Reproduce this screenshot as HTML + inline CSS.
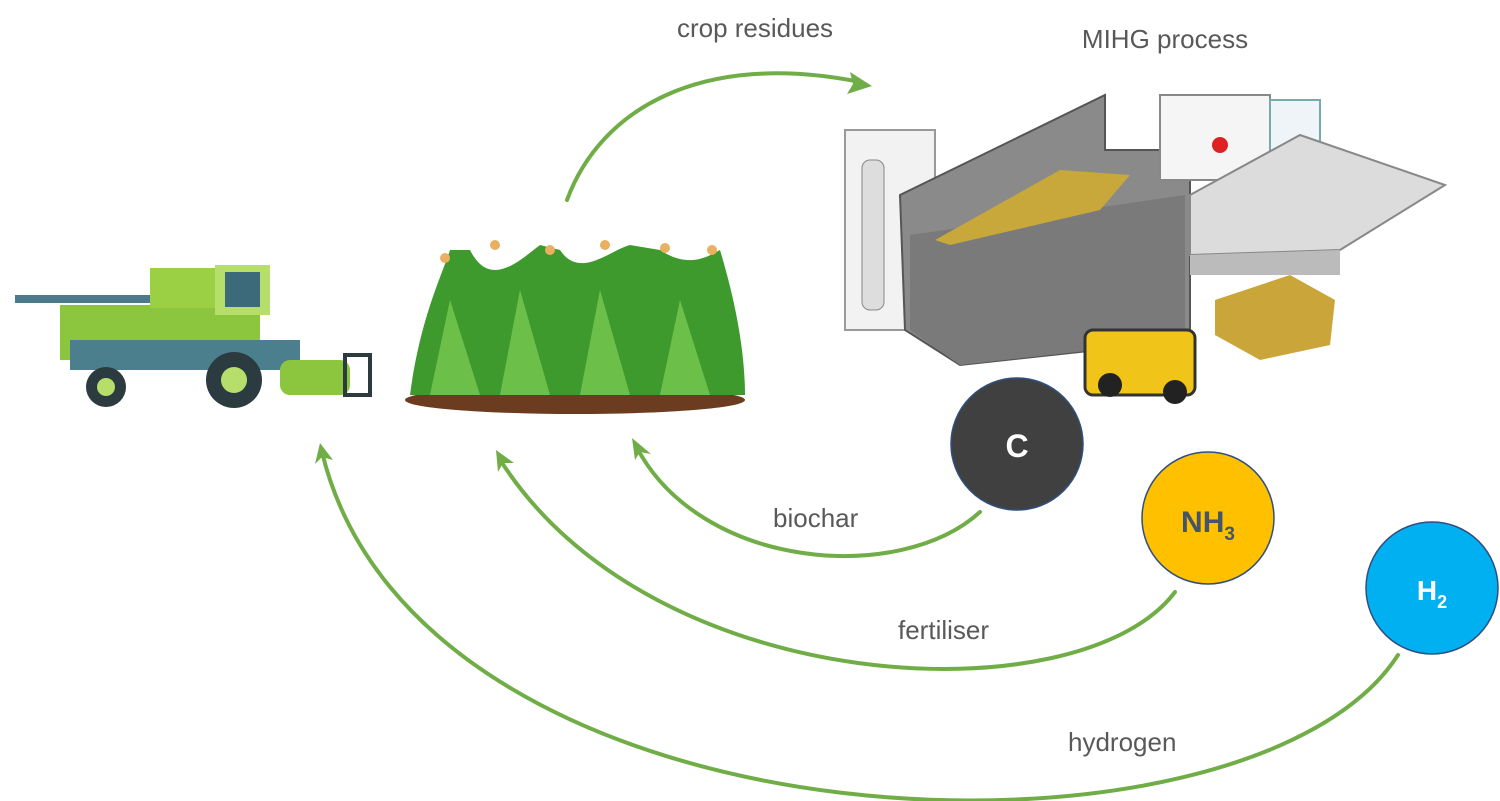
<!DOCTYPE html>
<html><head><meta charset="utf-8"><style>
body{margin:0;background:#fff}
svg{display:block}
text{font-family:"Liberation Sans",sans-serif}
</style></head><body>
<svg width="1500" height="801" viewBox="0 0 1500 801" xmlns="http://www.w3.org/2000/svg">
<g fill="none" stroke="#70ad47" stroke-width="4" stroke-linecap="round">
<path d="M567,200 C600,110 700,50 860,82"/>
<path d="M980,512 C900,585 700,570 636,446"/>
<path d="M1175,592 C1080,718 650,700 499,458"/>
<path d="M1398,655 C1250,885 420,860 322,452"/>
</g>
<g fill="#70ad47">
<polygon points="872,86 850,72 853,84 847,94"/>
<polygon points="632,438 635,460 640,452 651,454"/>
<polygon points="496,450 498,472 503,463 514,463"/>
<polygon points="320,443 315,464 322,457 333,460"/>
</g>
<!-- harvester -->
<g>
<rect x="15" y="295" width="160" height="8" fill="#4a7a8c"/>
<rect x="60" y="305" width="200" height="55" fill="#8cc63f"/>
<rect x="150" y="268" width="120" height="40" fill="#9bd045"/>
<rect x="215" y="265" width="55" height="50" fill="#b6de6a"/>
<rect x="225" y="272" width="35" height="35" fill="#3d6a7a"/>
<rect x="70" y="340" width="230" height="30" fill="#4b7f8e"/>
<circle cx="106" cy="387" r="20" fill="#2b3b40"/><circle cx="106" cy="387" r="9" fill="#b6de6a"/>
<circle cx="234" cy="380" r="28" fill="#2b3b40"/><circle cx="234" cy="380" r="13" fill="#b6de6a"/>
<rect x="280" y="360" width="70" height="35" rx="10" fill="#8cc63f"/>
<rect x="345" y="355" width="25" height="40" fill="none" stroke="#2b3b40" stroke-width="4"/>
</g>
<!-- corn -->
<g>
<ellipse cx="575" cy="400" rx="170" ry="14" fill="#6b3c1f"/>
<path d="M410,395 C420,320 440,280 450,250 L470,250 C490,290 520,260 540,245 L560,250 C580,280 610,250 630,245 L660,250 C690,270 710,255 720,250 C735,300 745,350 745,395 Z" fill="#3f9a2e"/>
<path d="M430,395 L450,300 L480,395 Z M500,395 L520,290 L550,395 Z M580,395 L600,290 L630,395 Z M660,395 L680,300 L710,395 Z" fill="#6cc04a"/>
<g fill="#e8b060"><circle cx="445" cy="258" r="5"/><circle cx="495" cy="245" r="5"/><circle cx="550" cy="250" r="5"/><circle cx="605" cy="245" r="5"/><circle cx="665" cy="248" r="5"/><circle cx="712" cy="250" r="5"/></g>
</g>
<!-- plant -->
<g>
<rect x="845" y="130" width="90" height="200" fill="#f2f2f2" stroke="#999" stroke-width="2"/>
<rect x="862" y="160" width="22" height="150" rx="8" fill="#ddd" stroke="#888"/>
<polygon points="900,195 1105,95 1105,150 1190,150 1190,340 960,365 905,330" fill="#8a8a8a" stroke="#555" stroke-width="2"/>
<polygon points="910,235 1185,195 1185,340 960,365 910,330" fill="#7a7a7a"/>
<polygon points="935,240 1060,170 1130,175 1100,210 950,245" fill="#c8a83a"/>
<rect x="1160" y="95" width="110" height="85" fill="#f5f5f5" stroke="#888" stroke-width="2"/>
<rect x="1270" y="100" width="50" height="90" fill="#eef4f8" stroke="#7aa" stroke-width="2"/>
<polygon points="1190,195 1300,135 1445,185 1340,250 1190,255" fill="#dcdcdc" stroke="#888" stroke-width="2"/>
<polygon points="1190,255 1340,250 1340,275 1190,275" fill="#bbb"/>
<circle cx="1220" cy="145" r="8" fill="#d22"/>
<rect x="1085" y="330" width="110" height="65" rx="8" fill="#f0c419" stroke="#333" stroke-width="3"/>
<circle cx="1110" cy="385" r="12" fill="#222"/><circle cx="1175" cy="392" r="12" fill="#222"/>
<polygon points="1215,300 1290,275 1335,300 1330,345 1260,360 1215,335" fill="#c9a53a"/>
</g>
<!-- circles -->
<circle cx="1017" cy="444" r="66" fill="#404040" stroke="#2f4f7f" stroke-width="1.5"/>
<text x="1017" y="457" text-anchor="middle" font-size="32" font-weight="bold" fill="#fff">C</text>
<circle cx="1208" cy="518" r="66" fill="#ffc000" stroke="#2f4f7f" stroke-width="1.5"/>
<text x="1208" y="532" text-anchor="middle" font-size="30" font-weight="bold" fill="#44546a">NH<tspan font-size="19" dy="8">3</tspan></text>
<circle cx="1432" cy="588" r="66" fill="#00b0f0" stroke="#2f4f7f" stroke-width="1.5"/>
<text x="1432" y="600" text-anchor="middle" font-size="28" font-weight="bold" fill="#fff">H<tspan font-size="18" dy="8">2</tspan></text>
<!-- labels -->
<g font-size="26" fill="#595959">
<text x="755" y="37" text-anchor="middle">crop residues</text>
<text x="1165" y="48" text-anchor="middle">MIHG process</text>
<text x="773" y="527">biochar</text>
<text x="898" y="639">fertiliser</text>
<text x="1068" y="751">hydrogen</text>
</g>
</svg>
</body></html>
